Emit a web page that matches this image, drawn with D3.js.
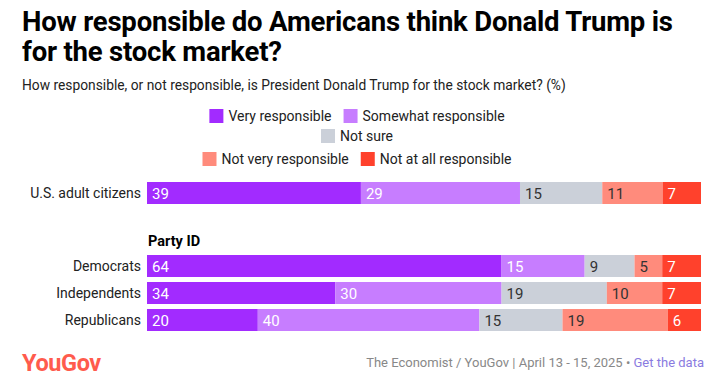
<!DOCTYPE html>
<html>
<head>
<meta charset="utf-8">
<script src="https://cdn.jsdelivr.net/npm/d3@7"></script>
<style>
  body { margin: 0; background: #fff; }
  svg { display: block; font-family: Roboto, "Liberation Sans", sans-serif; }
</style>
</head>
<body>
<div id="chart"></div>
<script>
// data
var groups = ["U.S. adult citizens", "Democrats", "Independents", "Republicans"];
var categories = ["Very responsible", "Somewhat responsible", "Not sure", "Not very responsible", "Not at all responsible"];
var veryResp = [39, 64, 34, 20];
var somewhatResp = [29, 15, 30, 40];
var notSure = [15, 9, 19, 15];
var notVery = [11, 5, 10, 19];
var notAtAll = [7, 7, 7, 6];

var colors = ["#a22bff", "#c77dff", "#cbd0d9", "#ff8b7c", "#ff412c"];
var labelColors = ["#fff", "#fff", "#333", "#333", "#fff"];

var width = 720, height = 389;
var svg = d3.select("#chart").append("svg")
  .attr("width", width)
  .attr("height", height);

// title + subtitle
var title = svg.append("text")
  .attr("x", 22)
  .attr("y", 31)
  .attr("font-size", 27.5)
  .attr("font-weight", 700)
  .attr("fill", "#000")
  .attr("letter-spacing", -0.2);
title.append("tspan").attr("x", 22).text("How responsible do Americans think Donald Trump is");
title.append("tspan").attr("x", 22).attr("dy", 30).text("for the stock market?");

svg.append("text")
  .attr("x", 22)
  .attr("y", 90)
  .attr("font-size", 13.8)
  .attr("fill", "#222")
  .text("How responsible, or not responsible, is President Donald Trump for the stock market? (%)");

// legend, three centered rows
var legendRows = [[0, 1], [2], [3, 4]];
var legendY = [116, 136, 159];
var legendCx = 357;
legendRows.forEach(function(row, r) {
  var g = svg.append("g");
  var x = 0;
  row.forEach(function(ci) {
    g.append("rect")
      .attr("x", x).attr("y", legendY[r] - 7)
      .attr("width", 14).attr("height", 14)
      .attr("fill", colors[ci]);
    var t = g.append("text")
      .attr("x", x + 19).attr("y", legendY[r] + 5)
      .attr("font-size", 14)
      .attr("fill", "#222")
      .text(categories[ci]);
    x += 19 + t.node().getComputedTextLength() + 12;
  });
  var w = x - 12;
  g.attr("transform", "translate(" + (legendCx - w / 2) + ",0)");
});

// stacked rows, each normalised to its own total
var table = groups.map(function(name, i) {
  var vals = [veryResp[i], somewhatResp[i], notSure[i], notVery[i], notAtAll[i]];
  return { name: name, vals: vals, total: d3.sum(vals) };
});

var xScale = d3.scaleLinear().domain([0, 1]).range([147, 701]);
var yPos = { "U.S. adult citizens": 182, "Democrats": 255, "Independents": 282, "Republicans": 309 };
var barH = 22;

svg.append("text")
  .attr("x", 148)
  .attr("y", 246)
  .attr("font-size", 14.5)
  .attr("font-weight", 700)
  .attr("fill", "#000")
  .text("Party ID");

table.forEach(function(d) {
  var g = svg.append("g").attr("transform", "translate(0," + yPos[d.name] + ")");
  var cum = 0;
  var segs = d.vals.map(function(v, k) {
    var s = { v: v, k: k, x0: cum / d.total, x1: (cum + v) / d.total };
    cum += v;
    return s;
  });

  g.selectAll("rect")
    .data(segs)
    .enter()
    .append("rect")
      .attr("x", function(s) { return xScale(s.x0); })
      .attr("width", function(s) { return xScale(s.x1) - xScale(s.x0); })
      .attr("y", 0)
      .attr("height", barH)
      .attr("fill", function(s) { return colors[s.k]; });

  g.selectAll("text.val")
    .data(segs)
    .enter()
    .append("text")
      .attr("class", "val")
      .attr("x", function(s) { return xScale(s.x0) + 5; })
      .attr("y", barH / 2 + 5.5)
      .attr("font-size", 15)
      .attr("fill", function(s) { return labelColors[s.k]; })
      .text(function(s) { return s.v; });

  g.append("text")
    .attr("x", 141)
    .attr("y", barH / 2 + 5)
    .attr("text-anchor", "end")
    .attr("font-size", 14)
    .attr("fill", "#222")
    .text(d.name);
});

// footer
svg.append("text")
  .attr("x", 22)
  .attr("y", 371)
  .attr("font-size", 23.5)
  .attr("font-weight", 700)
  .attr("fill", "#ff5b4d")
  .attr("letter-spacing", -0.4)
  .text("YouGov");

var src = svg.append("text")
  .attr("x", 704)
  .attr("y", 367)
  .attr("text-anchor", "end")
  .attr("font-size", 13)
  .attr("fill", "#888");
src.append("tspan").text("The Economist / YouGov | April 13 - 15, 2025 \u2022 ");
src.append("tspan").attr("fill", "#8a7be0").text("Get the data");
</script>
</body>
</html>
